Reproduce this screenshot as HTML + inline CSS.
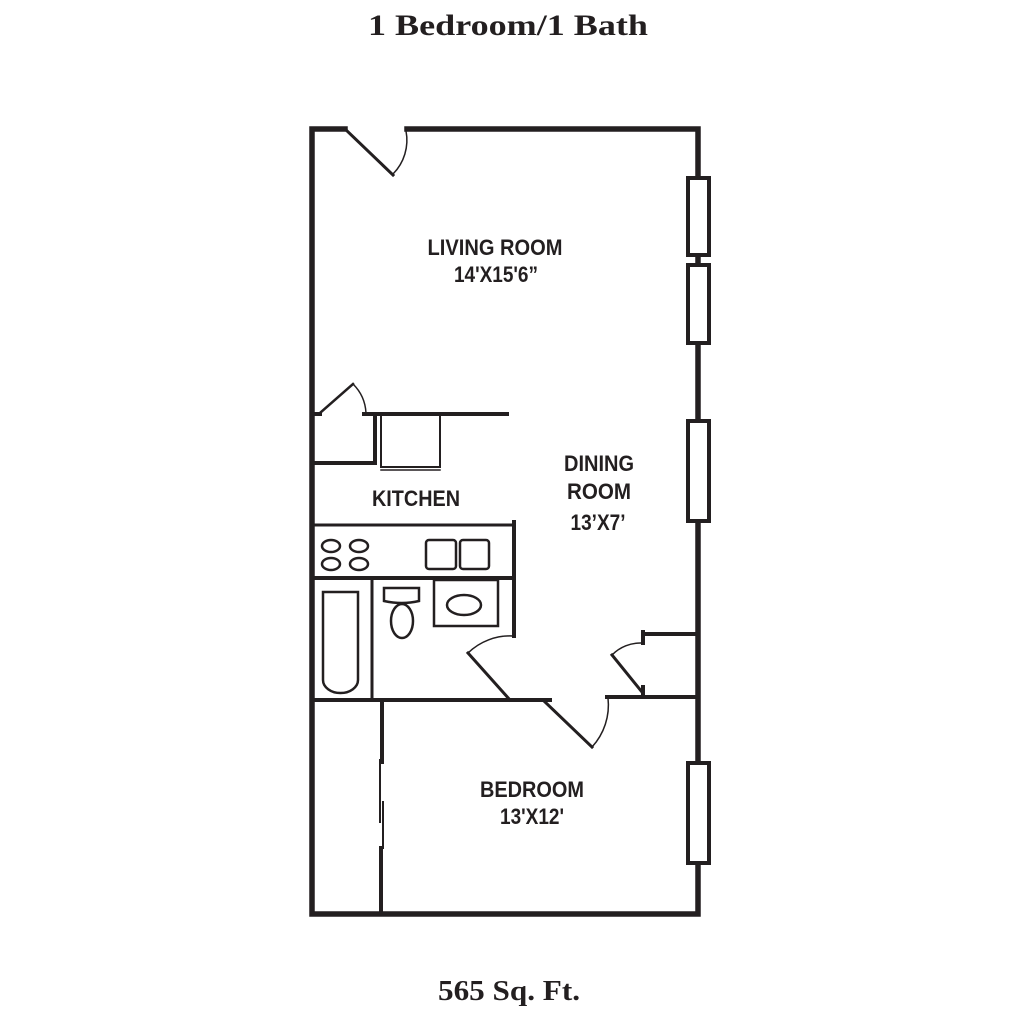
<!DOCTYPE html>
<html><head><meta charset="utf-8"><style>
html,body{margin:0;padding:0;background:#fff;}
svg{display:block}
.l{font-family:"Liberation Sans",Arial,sans-serif;font-weight:bold;font-size:22px;fill:#231f20;text-anchor:middle}
.t{font-family:"Liberation Serif",serif;font-weight:bold;fill:#231f20;text-anchor:middle}
</style></head><body>
<svg width="1024" height="1024" viewBox="0 0 1024 1024" xmlns="http://www.w3.org/2000/svg">
<text class="t" x="508" y="35" font-size="30" textLength="280" lengthAdjust="spacingAndGlyphs">1 Bedroom/1 Bath</text>
<text class="t" x="509" y="1000" font-size="28" textLength="142" lengthAdjust="spacingAndGlyphs">565 Sq. Ft.</text>
<g stroke="#231f20" fill="none" stroke-linecap="square">
<path d="M345 129 L312 129 L312 914 L698 914 L698 129 L407 129" stroke-width="5.5"/>
<line x1="345" y1="129" x2="393" y2="175" stroke-width="3"/>
<path d="M393 174 A48 48 0 0 0 406 131" stroke-width="1.5"/>
<g fill="#fff" stroke-width="4">
<rect x="688" y="178" width="21" height="77"/>
<rect x="688" y="265" width="21" height="78"/>
<rect x="688" y="421" width="21" height="100"/>
<rect x="688" y="763" width="21" height="100"/>
</g>
<line x1="312" y1="414" x2="320" y2="414" stroke-width="4"/>
<line x1="320" y1="413" x2="353" y2="384" stroke-width="2.5"/>
<path d="M353 384 A44 44 0 0 1 366 413" stroke-width="1.5"/>
<line x1="364" y1="414" x2="507" y2="414" stroke-width="4"/>
<line x1="375" y1="414" x2="375" y2="463" stroke-width="4"/>
<line x1="312" y1="463" x2="375" y2="463" stroke-width="4"/>
<path d="M381 416 L381 467 L440 467 L440 416" stroke-width="2"/>
<line x1="381" y1="470" x2="440" y2="470" stroke-width="1.5"/>
<line x1="314" y1="525" x2="512" y2="525" stroke-width="3"/>
<line x1="514" y1="522" x2="514" y2="636" stroke-width="4"/>
<line x1="314" y1="578" x2="514" y2="578" stroke-width="4"/>
<g stroke-width="2.5">
<ellipse cx="331" cy="546" rx="9" ry="6"/><ellipse cx="359" cy="546" rx="9" ry="6"/>
<ellipse cx="331" cy="564" rx="9" ry="6"/><ellipse cx="359" cy="564" rx="9" ry="6"/>
<rect x="426" y="540" width="30" height="29" rx="3"/>
<rect x="460" y="540" width="29" height="29" rx="3"/>
</g>
<line x1="372" y1="578" x2="372" y2="700" stroke-width="3"/>
<path d="M323 592 L358 592 L358 680 A17.5 13 0 0 1 323 680 Z" stroke-width="2.5"/>
<path d="M384 588 L419 588 L419 601 Q402 605 384 601 Z" stroke-width="2.5"/>
<ellipse cx="402" cy="621" rx="11" ry="17" stroke-width="2.5"/>
<rect x="434" y="580" width="64" height="46" stroke-width="2.5"/>
<ellipse cx="464" cy="605" rx="17" ry="10" stroke-width="2.5"/>
<line x1="468" y1="653" x2="510" y2="700" stroke-width="3"/>
<path d="M468 653 A60 60 0 0 1 513 636" stroke-width="1.5"/>
<line x1="312" y1="700" x2="550" y2="700" stroke-width="4"/>
<line x1="545" y1="702" x2="592" y2="747" stroke-width="3"/>
<path d="M592 747 A62 62 0 0 0 608 698" stroke-width="1.5"/>
<line x1="607" y1="697" x2="695" y2="697" stroke-width="4"/>
<line x1="643" y1="634" x2="696" y2="634" stroke-width="4"/>
<line x1="643" y1="632" x2="643" y2="643" stroke-width="4"/>
<line x1="643" y1="687" x2="643" y2="697" stroke-width="4"/>
<line x1="612" y1="655" x2="642" y2="692" stroke-width="3"/>
<path d="M612 655 A40 40 0 0 1 642 643" stroke-width="1.5"/>
<line x1="382" y1="700" x2="382" y2="762" stroke-width="4"/>
<line x1="380" y1="760" x2="380" y2="822" stroke-width="2"/>
<line x1="383" y1="802" x2="383" y2="848" stroke-width="2"/>
<line x1="381" y1="848" x2="381" y2="914" stroke-width="4"/>
</g>
<text class="l" x="495" y="255" textLength="135" lengthAdjust="spacingAndGlyphs">LIVING ROOM</text>
<text class="l" x="496" y="282" textLength="84" lengthAdjust="spacingAndGlyphs">14'X15'6”</text>
<text class="l" x="599" y="471" textLength="70" lengthAdjust="spacingAndGlyphs">DINING</text>
<text class="l" x="599" y="499" textLength="64" lengthAdjust="spacingAndGlyphs">ROOM</text>
<text class="l" x="598" y="530" textLength="55" lengthAdjust="spacingAndGlyphs">13’X7’</text>
<text class="l" x="416" y="506" textLength="88" lengthAdjust="spacingAndGlyphs">KITCHEN</text>
<text class="l" x="532" y="797" textLength="104" lengthAdjust="spacingAndGlyphs">BEDROOM</text>
<text class="l" x="532" y="824" textLength="64" lengthAdjust="spacingAndGlyphs">13'X12'</text>
</svg>
</body></html>
